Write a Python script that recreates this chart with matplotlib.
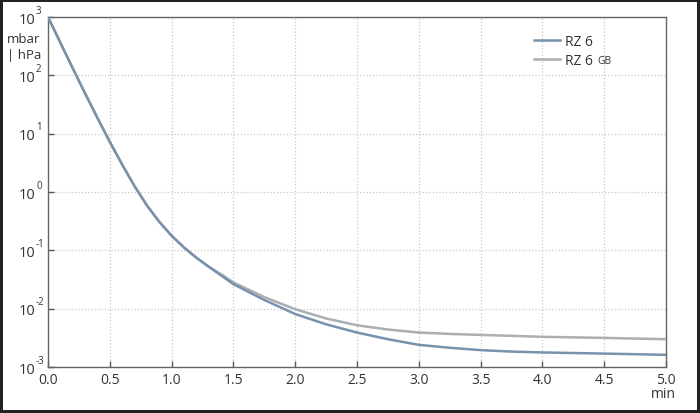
import matplotlib
matplotlib.use('Agg')
import matplotlib.pyplot as plt
from matplotlib.ticker import FixedLocator, FuncFormatter, NullFormatter, NullLocator

plt.rcParams['font.family'] = ['Open Sans', 'DejaVu Sans']

# pump-down curves, pressure in mbar
t_min = [0.0, 0.1, 0.2, 0.3, 0.4, 0.5, 0.6, 0.7, 0.8, 0.9, 1.0, 1.1, 1.2, 1.3,
         1.4, 1.5, 1.75, 2.0, 2.25, 2.5, 2.75, 3.0, 3.25, 3.5, 3.75, 4.0, 4.5, 5.0]
rz6 = [1000, 363, 132, 49, 18.6, 7.24, 2.95, 1.26, 0.589, 0.309, 0.178, 0.112,
       0.075, 0.0525, 0.0372, 0.0263, 0.0141, 0.0081, 0.0054, 0.0039, 0.0030,
       0.0024, 0.00214, 0.00195, 0.00184, 0.00178, 0.0017, 0.00162]
rz6_gb = [1000, 363, 132, 49, 18.6, 7.24, 2.95, 1.26, 0.589, 0.309, 0.178, 0.112,
          0.075, 0.0525, 0.0389, 0.0282, 0.0158, 0.0098, 0.0068, 0.0052, 0.0044,
          0.0039, 0.0037, 0.00355, 0.00343, 0.0033, 0.00316, 0.0030]

x_ticks = [0.0, 0.5, 1.0, 1.5, 2.0, 2.5, 3.0, 3.5, 4.0, 4.5, 5.0]
y_exps = [-3, -2, -1, 0, 1, 2, 3]

TXT = '#333333'

fig = plt.figure(figsize=(7, 4.14), dpi=100)
fig.patch.set_edgecolor('#222222')
fig.patch.set_linewidth(3)
ax = fig.add_axes([0.0686, 0.111, 0.8829, 0.8455])

ax.plot(t_min, rz6_gb, color='#a9afb3', lw=1.8, label='RZ 6', zorder=3)
ax.plot(t_min, rz6, color='#7892ad', lw=1.8, label='RZ 6', zorder=4)

ax.set_yscale('log')
ax.set_xlim(0, 5)
ax.set_ylim(1e-3, 1e3)
ax.xaxis.set_major_locator(FixedLocator(x_ticks))
ax.xaxis.set_major_formatter(FuncFormatter(lambda v, p: f'{v:.1f}'))
ax.yaxis.set_major_locator(FixedLocator([10.0 ** e for e in y_exps]))
ax.yaxis.set_minor_locator(NullLocator())
ax.yaxis.set_major_formatter(NullFormatter())

ax.tick_params(direction='in', length=4, width=1, color='#555555',
               labelsize=10, labelcolor=TXT, pad=3.5)
for s in ax.spines.values():
    s.set_color('#666666')
    s.set_linewidth(1)
ax.grid(True, color='#c8c8c8', linestyle=':', linewidth=0.9)
ax.set_axisbelow(True)

# y tick labels as 10 with a small superscript exponent
for e in y_exps:
    ax.annotate('10', xy=(0, 10.0 ** e), xycoords=('axes fraction', 'data'),
                xytext=(-13, -2), textcoords='offset pixels', ha='right',
                va='center', fontsize=10.5, color=TXT, annotation_clip=False)
    ax.annotate(str(e), xy=(0, 10.0 ** e), xycoords=('axes fraction', 'data'),
                xytext=(-12, 7), textcoords='offset pixels', ha='left',
                va='center', fontsize=7, color=TXT, annotation_clip=False)

fig.text(0.01, 0.921, 'mbar\n| hPa', fontsize=9.5, color=TXT,
         ha='left', va='top', linespacing=1.3)
fig.text(0.947, 0.046, 'min', fontsize=10, color=TXT, ha='center', va='center')

handles, labels = ax.get_legend_handles_labels()
leg = fig.legend(handles[::-1], labels[::-1], loc='upper left', frameon=False,
                 fontsize=10, handlelength=1.85, handletextpad=0.4,
                 labelspacing=0.25, borderpad=0, borderaxespad=0,
                 bbox_to_anchor=(0.763, 0.915), labelcolor=TXT)
fig.canvas.draw()
inv = fig.transFigure.inverted()
bb = leg.get_texts()[1].get_window_extent()
x1, y0 = inv.transform((bb.x1, bb.y0))
fig.text(x1 + 0.006, y0 + 0.004, 'GB', fontsize=7.5, color=TXT,
         ha='left', va='bottom')

fig.savefig('out.png', dpi=100, edgecolor=fig.get_edgecolor())
